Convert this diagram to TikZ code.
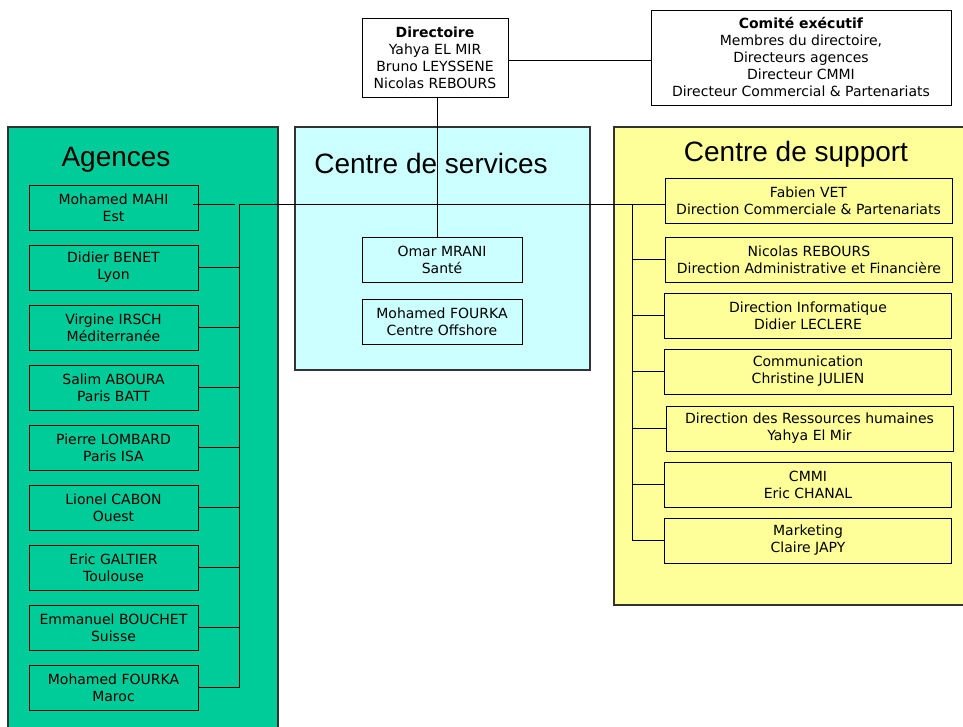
\documentclass[tikz,border=0pt]{standalone}
\usepackage{fontspec}
\setmainfont{DejaVu Sans}
\newfontfamily\titlefont{Liberation Sans}
\definecolor{agreen}{HTML}{00CC99}
\definecolor{scyan}{HTML}{CCFFFF}
\definecolor{syellow}{HTML}{FFFF99}
\definecolor{pborder}{HTML}{333333}
\begin{document}
\begin{tikzpicture}[x=1pt,y=-1pt,
  box/.style={draw=black,line width=0.9pt,align=center,inner sep=0pt,
    font=\fontsize{14}{17}\selectfont},
  abox/.style={box,minimum width=169,minimum height=45},
  sbox/.style={box,minimum width=287,minimum height=45},
  cbox/.style={box,minimum width=160,minimum height=45},
  panel/.style={draw=pborder,line width=1.3pt},
  ptitle/.style={font=\titlefont\fontsize{28}{30}\selectfont,inner sep=0pt},
  link/.style={draw=black,line width=0.9pt}]
\useasboundingbox (0,0) rectangle (963,727);
\fill[white] (0,0) rectangle (963,727);
% panels
\draw[panel,fill=agreen] (8,127) rectangle (278,732);
\draw[panel,fill=scyan] (295,127) rectangle (590,370);
\draw[panel,fill=syellow] (614,127) rectangle (968,605);
\node[ptitle] (tA) at (116,160) {Agences};
\node[ptitle] (tS) at (431,163) {Centre de services};
\node[ptitle] (tP) at (796,154) {Centre de support};
% top
\node[box,fill=white,minimum width=146,minimum height=79] (dir) at (435,57.5)
  {\textbf{Directoire}\\Yahya EL MIR\\Bruno LEYSSENE\\Nicolas REBOURS};
\node[box,fill=white,minimum width=300,minimum height=95] (com) at (801,57.5)
  {\textbf{Comité exécutif}\\Membres du directoire,\\Directeurs agences\\Directeur CMMI\\Directeur Commercial \& Partenariats};
% services
\node[cbox] (s1) at (442,259.5) {Omar MRANI\\Santé};
\node[cbox] (s2) at (442,321.5) {Mohamed FOURKA\\Centre Offshore};
% agences
\node[abox] (a1) at (113.5,207.5) {Mohamed MAHI\\Est};
\node[abox] (a2) at (113.5,267.5) {Didier BENET\\Lyon};
\node[abox] (a3) at (113.5,327.5) {Virgine IRSCH\\Méditerranée};
\node[abox] (a4) at (113.5,387.5) {Salim ABOURA\\Paris BATT};
\node[abox] (a5) at (113.5,447.5) {Pierre LOMBARD\\Paris ISA};
\node[abox] (a6) at (113.5,507.5) {Lionel CABON\\Ouest};
\node[abox] (a7) at (113.5,567.5) {Eric GALTIER\\Toulouse};
\node[abox] (a8) at (113.5,627.5) {Emmanuel BOUCHET\\Suisse};
\node[abox] (a9) at (113.5,687.5) {Mohamed FOURKA\\Maroc};
% support
\node[sbox] (p1) at (808.5,200.5) {Fabien VET\\Direction Commerciale \& Partenariats};
\node[sbox] (p2) at (809,259.5) {Nicolas REBOURS\\Direction Administrative et Financière};
\node[sbox] (p3) at (808,315.5) {Direction Informatique\\Didier LECLERE};
\node[sbox] (p4) at (808,371.5) {Communication\\Christine JULIEN};
\node[sbox] (p5) at (809.5,428.5) {Direction des Ressources humaines\\Yahya El Mir};
\node[sbox] (p6) at (808,484.5) {CMMI\\Eric CHANAL};
\node[sbox] (p7) at (808,540.5) {Marketing\\Claire JAPY};
% connectors
\coordinate (ab) at (239,204);
\coordinate (sb) at (632,204);
\draw[link] ([yshift=-2.5pt]dir.east) -- ([yshift=-2.5pt]com.west);
\draw[link] ([xshift=2pt]dir.south) -- ([xshift=2pt]dir.south |- s1.north);
\draw[link] ([xshift=-5pt]a1.east |- ab) -- ([xshift=-4pt]ab);
\draw[link] (ab) -- (ab -| p1.west);
\draw[link] (ab) |- (a9.east);
\foreach \i in {2,...,8} {\draw[link] (a\i.east) -- (a\i.east -| ab);}
\draw[link] (sb) |- (p7.west);
\foreach \i in {2,...,6} {\draw[link] (p\i.west) -- (p\i.west -| sb);}
\end{tikzpicture}
\end{document}
